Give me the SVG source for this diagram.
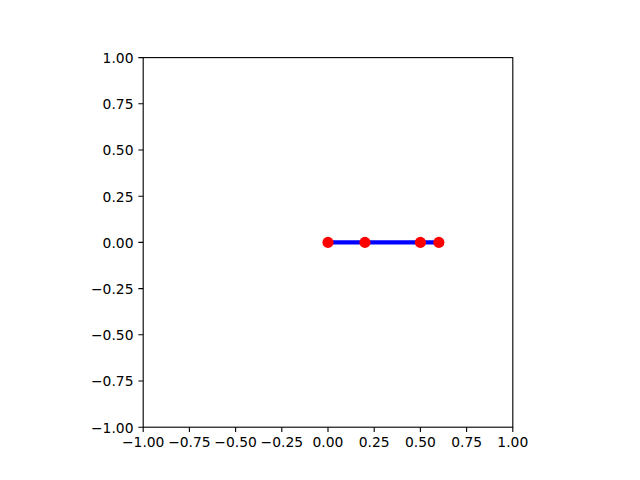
<svg xmlns="http://www.w3.org/2000/svg" width="640" height="480" viewBox="0 0 640 480">
<style>
.t{font-family:"DejaVu Sans",sans-serif;font-size:13.89px;fill:#000}
.xl{text-anchor:middle}
.yl{text-anchor:end}
.tk{stroke:#000;stroke-width:1.11}
.m{fill:#ff0000}
</style>
<rect x="0" y="0" width="640" height="480" fill="#fff"/>
<g id="ticks">
<path class="tk" d="M143.2 427.2v4.86M189.4 427.2v4.86M235.6 427.2v4.86M281.8 427.2v4.86M328 427.2v4.86M374.2 427.2v4.86M420.4 427.2v4.86M466.6 427.2v4.86M512.8 427.2v4.86"/>
<path class="tk" d="M143.2 57.6h-4.86M143.2 103.8h-4.86M143.2 150h-4.86M143.2 196.2h-4.86M143.2 242.4h-4.86M143.2 288.6h-4.86M143.2 334.8h-4.86M143.2 381h-4.86M143.2 427.2h-4.86"/>
</g>
<g id="xlabels" class="t xl">
<text x="143.2" y="446.5">−1.00</text>
<text x="189.4" y="446.5">−0.75</text>
<text x="235.6" y="446.5">−0.50</text>
<text x="281.8" y="446.5">−0.25</text>
<text x="328" y="446.5">0.00</text>
<text x="374.2" y="446.5">0.25</text>
<text x="420.4" y="446.5">0.50</text>
<text x="466.6" y="446.5">0.75</text>
<text x="512.8" y="446.5">1.00</text>
</g>
<g id="ylabels" class="t yl">
<text x="133.5" y="62.9">1.00</text>
<text x="133.5" y="109.1">0.75</text>
<text x="133.5" y="155.3">0.50</text>
<text x="133.5" y="201.5">0.25</text>
<text x="133.5" y="247.7">0.00</text>
<text x="133.5" y="293.9">−0.25</text>
<text x="133.5" y="340.1">−0.50</text>
<text x="133.5" y="386.3">−0.75</text>
<text x="133.5" y="432.5">−1.00</text>
</g>
<g id="connectors">
<line x1="328" y1="242.4" x2="438.88" y2="242.4" stroke="#0000ff" stroke-width="4.17"/>
</g>
<g id="p0"><circle class="m" cx="328" cy="242.4" r="5.56"/></g>
<g id="p1"><circle class="m" cx="364.96" cy="242.4" r="5.56"/></g>
<g id="p2"><circle class="m" cx="420.4" cy="242.4" r="5.56"/></g>
<g id="p3"><circle class="m" cx="438.88" cy="242.4" r="5.56"/></g>
<rect id="frame" x="143.2" y="57.6" width="369.6" height="369.6" fill="none" stroke="#000" stroke-width="1.11"/>
</svg>
